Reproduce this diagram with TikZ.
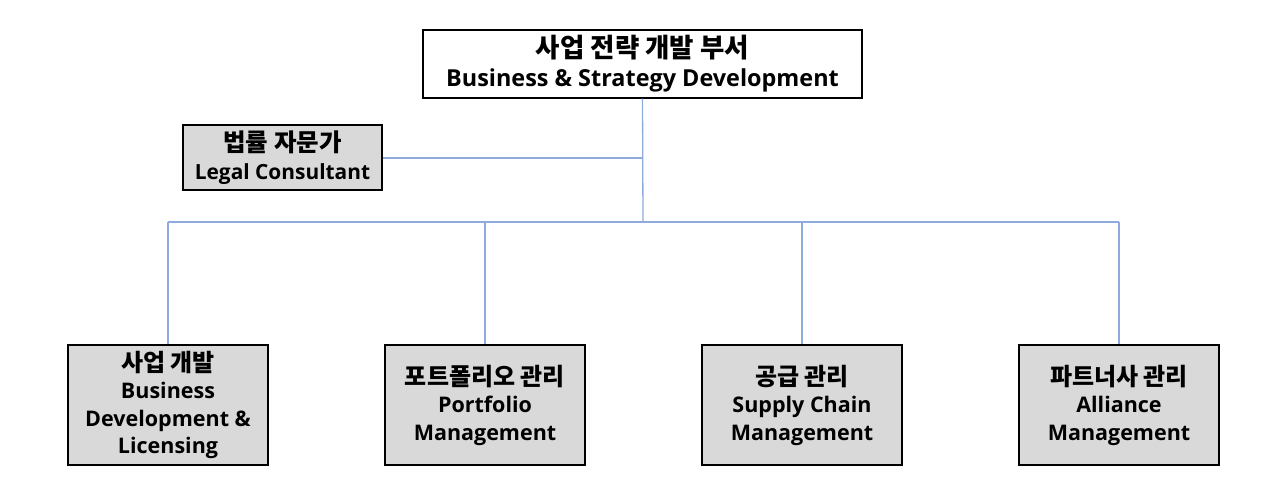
\documentclass[tikz,border=0pt]{standalone}
\usepackage{fontspec}
\setmainfont{Open Sans}
\newfontfamily\krfont{Noto Sans CJK KR}
\newcommand{\kr}[2][23.5]{{\krfont\fontsize{#1}{27.5}\selectfont #2}}
\definecolor{conn}{HTML}{8FAADC}
\definecolor{boxfill}{HTML}{D9D9D9}
\tikzset{
  orgbox/.style={draw=black, line width=1.2pt, align=center, inner sep=0pt,
    font=\bfseries\fontsize{21.5}{27.5}\selectfont},
  graybox/.style={orgbox, fill=boxfill},
  conline/.style={draw=conn, line width=1.3pt}
}
\begin{document}
\begin{tikzpicture}[x=1pt,y=-1pt]
\useasboundingbox (0,0) rectangle (1280,493);
\node[orgbox, fill=white, minimum width=439pt, minimum height=68pt,
  font=\bfseries\fontsize{23.4}{29}\selectfont] (top) at (642.5,64)
  {\kr[26.5]{사업 전략 개발 부서}\\Business \& Strategy Development};
\node[graybox, minimum width=199pt, minimum height=65pt,
  font=\bfseries\fontsize{20.9}{27.5}\selectfont] (legal) at (282.5,157.5)
  {\kr[24.5]{법률 자문가}\\Legal Consultant};
\node[graybox, minimum width=200pt, minimum height=120pt] (b1) at (168,405)
  {\kr[24]{사업 개발}\\Business\\Development \&\\Licensing};
\node[graybox, minimum width=200pt, minimum height=120pt] (b2) at (485,405)
  {\kr[24]{포트폴리오 관리}\\Portfolio\\Management};
\node[graybox, minimum width=200pt, minimum height=120pt] (b3) at (802,405)
  {\kr[24]{공급 관리}\\Supply Chain\\Management};
\node[graybox, minimum width=200pt, minimum height=120pt] (b4) at (1119,405)
  {\kr[24]{파트너사 관리}\\Alliance\\Management};
\coordinate (bus) at (643,222);
\coordinate (tap) at (643,158);
\draw[conline] (top.south) -- (bus);
\draw[conline] (legal.east |- tap) -- (tap);
\draw[conline] (b1.north |- bus) -- (b4.north |- bus);
\foreach \b in {b1,b2,b3,b4} \draw[conline] (\b.north |- bus) -- (\b.north);
\end{tikzpicture}
\end{document}
